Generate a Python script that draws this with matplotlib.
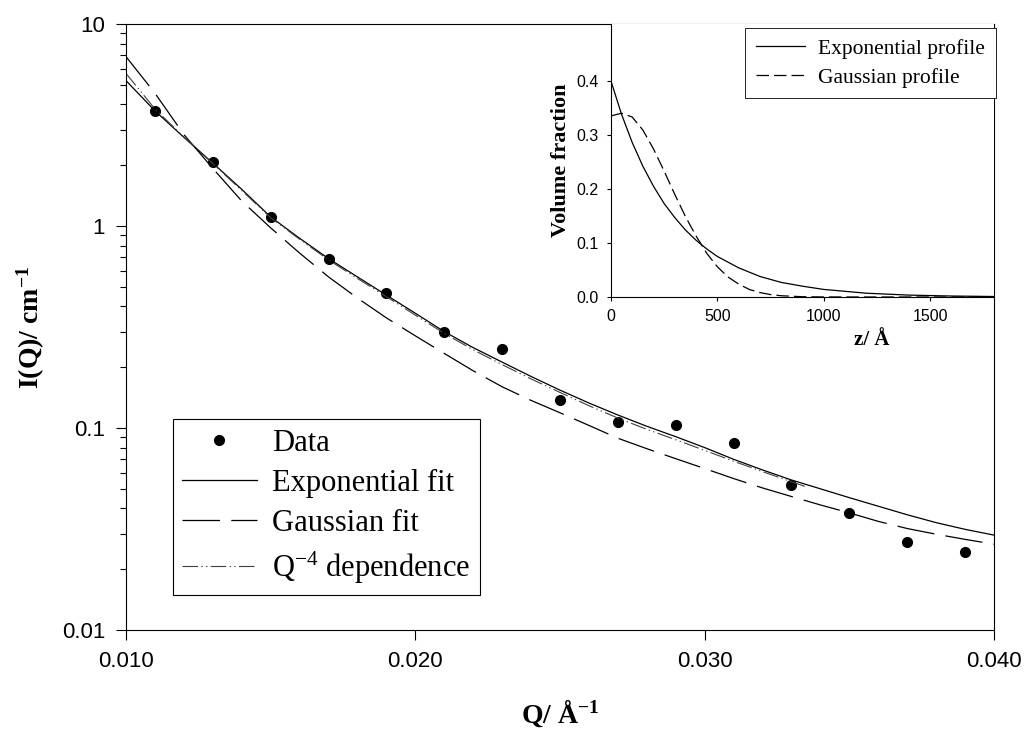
import matplotlib
matplotlib.use('Agg')
import matplotlib.pyplot as plt
from matplotlib.ticker import FixedLocator, FixedFormatter, LogLocator, NullFormatter

plt.rcParams['font.family'] = ['Liberation Serif', 'DejaVu Serif']
plt.rcParams['mathtext.fontset'] = 'custom'
plt.rcParams['mathtext.rm'] = 'Liberation Serif'
plt.rcParams['mathtext.it'] = 'Liberation Serif:italic'
plt.rcParams['mathtext.bf'] = 'Liberation Serif:bold'

# measured points
q_data = [0.011, 0.013, 0.015, 0.017, 0.019, 0.021, 0.023, 0.025,
          0.027, 0.029, 0.031, 0.033, 0.035, 0.037, 0.039]
i_data = [3.71, 2.07, 1.11, 0.689, 0.464, 0.30, 0.245, 0.138,
          0.107, 0.104, 0.0846, 0.0522, 0.0378, 0.0273, 0.0243]

# fitted curves
q_fit = [0.010, 0.011, 0.012, 0.013, 0.014, 0.015, 0.016, 0.017, 0.018, 0.019,
         0.020, 0.021, 0.022, 0.023, 0.024, 0.025, 0.026, 0.027, 0.028, 0.029,
         0.030, 0.031, 0.032, 0.033, 0.034, 0.035, 0.036, 0.037, 0.038, 0.039, 0.040]
i_exp = [5.25, 3.72, 2.75, 2.05, 1.52, 1.11, 0.87, 0.69, 0.56, 0.455,
         0.37, 0.30, 0.25, 0.212, 0.18, 0.154, 0.133, 0.116, 0.102, 0.0906,
         0.080, 0.070, 0.062, 0.0553, 0.050, 0.0452, 0.041, 0.0372, 0.034, 0.0315, 0.0295]
i_gauss = [6.9, 4.55, 2.84, 1.93, 1.33, 0.98, 0.735, 0.56, 0.44, 0.351,
           0.286, 0.234, 0.192, 0.160, 0.137, 0.119, 0.103, 0.089, 0.079, 0.0705,
           0.063, 0.0562, 0.0505, 0.0458, 0.0416, 0.0380, 0.0345, 0.0318, 0.0298, 0.0281, 0.0266]
q_porod = [0.010, 0.011, 0.012, 0.013, 0.014, 0.015, 0.016, 0.017, 0.018, 0.019,
           0.020, 0.021, 0.022, 0.023, 0.024, 0.025, 0.026, 0.027, 0.028, 0.029,
           0.030, 0.031, 0.032, 0.033, 0.0335]
i_porod = [5.7, 3.8, 2.76, 2.04, 1.5, 1.1, 0.86, 0.68, 0.55, 0.447,
           0.362, 0.294, 0.244, 0.206, 0.175, 0.150, 0.129, 0.112, 0.0985, 0.0875,
           0.0775, 0.0685, 0.0608, 0.0542, 0.0512]

# inset: volume fraction profiles
z_exp = [0, 50, 100, 150, 200, 250, 300, 350, 400, 450, 500, 600, 700, 800,
         900, 1000, 1200, 1400, 1600, 1800]
phi_exp = [0.40, 0.338, 0.286, 0.242, 0.205, 0.173, 0.147, 0.124, 0.105, 0.089,
           0.075, 0.054, 0.038, 0.027, 0.020, 0.014, 0.007, 0.0035, 0.0018, 0.0009]
z_gau = [0, 50, 100, 150, 200, 250, 300, 350, 400, 450, 500, 550, 600, 650,
         700, 750, 800, 900, 1000, 1200, 1400, 1600, 1800]
phi_gau = [0.335, 0.34, 0.333, 0.309, 0.274, 0.233, 0.190, 0.149, 0.113, 0.081,
           0.056, 0.037, 0.024, 0.014, 0.0082, 0.0045, 0.0023, 0.0005, 0.0001,
           0, 0, 0, 0]

x_ticks = [0.010, 0.020, 0.030, 0.040]
x_labels = ['0.010', '0.020', '0.030', '0.040']
y_ticks = [0.01, 0.1, 1, 10]
y_labels = ['0.01', '0.1', '1', '10']
z_ticks = [0, 500, 1000, 1500]
phi_ticks = [0.0, 0.1, 0.2, 0.3, 0.4]
phi_labels = ['0.0', '0.1', '0.2', '0.3', '0.4']

fig = plt.figure(figsize=(10.25, 7.29), dpi=100)
ax = fig.add_axes([0.1229, 0.1358, 0.8469, 0.8312])

ax.plot(q_data, i_data, 'o', color='black', ms=7, label='Data')
ax.plot(q_fit, i_exp, '-', color='black', lw=0.9, label='Exponential fit')
ax.plot(q_fit, i_gauss, color='black', lw=0.9, linestyle=(0, (30, 9)), label='Gaussian fit')
ax.plot(q_porod, i_porod, color='0.25', lw=0.8, linestyle=(0, (14, 3, 1.2, 3, 1.2, 3)),
        label='Q$^{-4}$ dependence')

ax.set_yscale('log')
ax.set_xlim(0.010, 0.040)
ax.set_ylim(0.01, 10)
ax.xaxis.set_major_locator(FixedLocator(x_ticks))
ax.xaxis.set_major_formatter(FixedFormatter(x_labels))
ax.yaxis.set_major_locator(FixedLocator(y_ticks))
ax.yaxis.set_major_formatter(FixedFormatter(y_labels))
ax.yaxis.set_minor_locator(LogLocator(base=10, subs=range(2, 10)))
ax.yaxis.set_minor_formatter(NullFormatter())
ax.tick_params(which='major', direction='out', length=7, width=0.8, pad=8,
               labelsize=16, labelfontfamily='Liberation Sans')
ax.tick_params(which='minor', direction='out', length=4, width=0.8)
for s in ax.spines.values():
    s.set_linewidth(0.8)

ax.set_xlabel('Q/ Å$^{\\mathbf{-1}}$', fontsize=20, fontweight='bold')
ax.set_ylabel('I(Q)/ cm$^{\\mathbf{-1}}$', fontsize=20, fontweight='bold')
ax.xaxis.set_label_coords(0.5, -0.112)
ax.yaxis.set_label_coords(-0.091, 0.5)

leg = ax.legend(loc='lower left', bbox_to_anchor=(0.054, 0.058), borderaxespad=0,
                fontsize=22, numpoints=1, fancybox=False, framealpha=1,
                edgecolor='black', handlelength=2.45, handletextpad=0.5,
                labelspacing=0.37, borderpad=0.3)
leg.get_frame().set_linewidth(0.8)

# inset
axi = fig.add_axes([0.596, 0.5926, 0.3738, 0.3744])
axi.plot(z_exp, phi_exp, '-', color='black', lw=0.9, label='Exponential profile')
axi.plot(z_gau, phi_gau, color='black', lw=0.9, linestyle=(0, (10, 4)), label='Gaussian profile')
axi.set_xlim(0, 1800)
axi.set_ylim(0, 0.505)
axi.xaxis.set_major_locator(FixedLocator(z_ticks))
axi.yaxis.set_major_locator(FixedLocator(phi_ticks))
axi.yaxis.set_major_formatter(FixedFormatter(phi_labels))
axi.tick_params(direction='out', length=3, width=0.8, pad=6, labelsize=11.5,
                labelfontfamily='Liberation Sans')
axi.spines['top'].set_visible(False)
axi.spines['right'].set_visible(False)
for s in axi.spines.values():
    s.set_linewidth(0.8)
axi.set_xlabel('z/ Å', fontsize=15, fontweight='bold')
axi.set_ylabel('Volume fraction', fontsize=16, fontweight='bold')
axi.xaxis.set_label_coords(0.68, -0.12)
axi.yaxis.set_label_coords(-0.105, 0.5)
leg2 = axi.legend(loc='upper right', bbox_to_anchor=(1.005, 0.985), borderaxespad=0,
                  fontsize=15.5, fancybox=False, framealpha=1, edgecolor='black',
                  handlelength=2.3, handletextpad=0.6, labelspacing=0.4, borderpad=0.5)
leg2.get_frame().set_linewidth(0.6)

fig.savefig('out.png', dpi=100)
